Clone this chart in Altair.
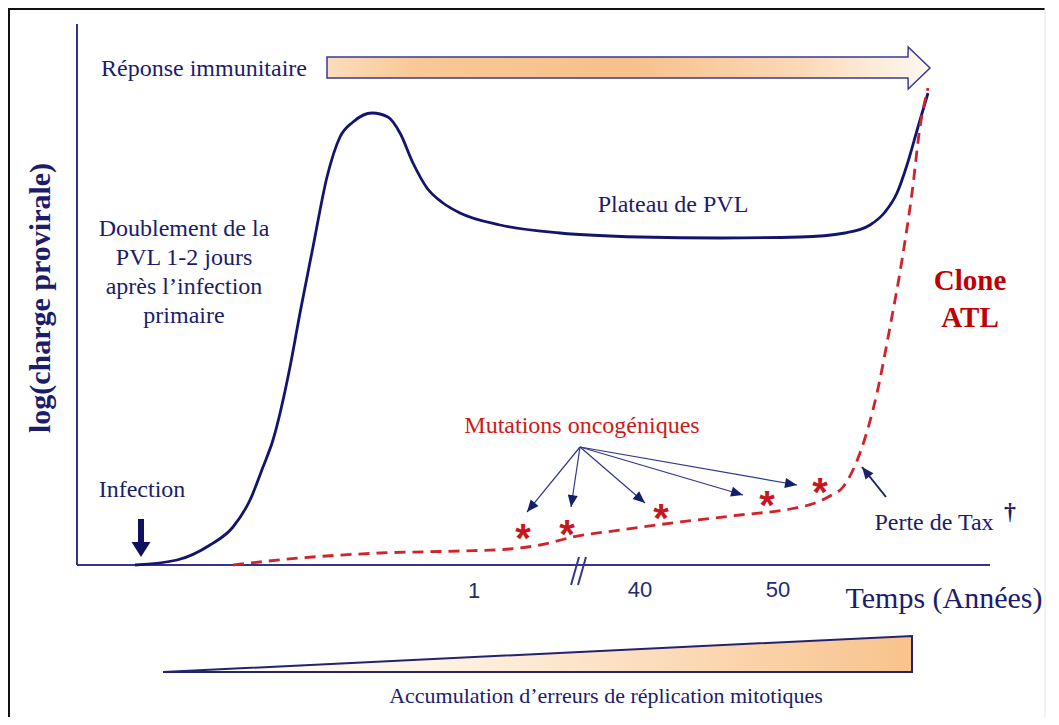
import altair as alt
import pandas as pd

# ---------------- schematic units: x = time (arbitrary), y = log proviral load (arbitrary) -------------
X_DOMAIN = [-69, 974]
Y_DOMAIN = [-152, 557]

# proviral load (solid curve)
pvl_x = [58, 100, 133, 156, 173, 186, 196, 213, 223, 236, 250, 263, 276, 295, 311, 323, 336, 350,
         366, 383, 423, 483, 563, 643, 723, 768, 793, 808, 820, 830, 841, 851]
pvl_y = [0, 5, 20, 38, 65, 98, 125, 198, 252, 318, 388, 428, 443, 452, 448, 432, 402, 377,
         362, 352, 340, 332, 328, 327, 328, 332, 340, 353, 372, 400, 438, 472]

# ATL clone (dashed curve)
atl_x = [156, 223, 303, 383, 433, 463, 496, 543, 603, 663, 713, 738, 753, 766, 775, 783, 800, 813,
         825, 835, 843, 851]
atl_y = [0, 7, 12, 14, 16, 20, 28, 35, 43, 50, 56, 62, 69, 78, 93, 112, 172, 238,
         305, 372, 438, 477]

# oncogenic mutations (asterisks) and arrows pointing at them
star_x = [446, 490, 584, 690, 743]
star_y = [36, 40, 56, 69, 82]
mut_origin_x = 503
mut_origin_y = 118
mut_tip_x = [450, 494, 568, 666, 720]
mut_tip_y = [53, 58, 62, 70, 80]

# "Perte de Tax" arrow
tax_from = (809, 68)
tax_tip = (785, 98)

# infection arrow
inf_shaft = (64, 46, 64, 20)
inf_tip = (64, 8)

# time tick labels
tick_labels = ["1", "40", "50"]
tick_x = [397, 563, 701]
tick_y = [-33, -32, -32]

# axes, axis break, frame
axis_segs = [(0, 0, 0, 541), (0, 0, 913, 0)]
break_segs = [(494, -20, 502, 8), (501, -20, 509, 8)]
frame_dark = [(-69, 556, 968, 556), (-68, 557, -68, -152)]
frame_light = [(968, 557, 968, -152)]

# immune response arrow (x, top, bottom)
imm_x = [250, 831, 831.2, 853]
imm_top = [508, 508, 518, 497]
imm_bot = [487, 487, 476, 497]

# accumulation wedge
wedge_x = [86, 835]
wedge_top = [-107, -71]
wedge_bot = [-107, -107]

serif_navy = [
    ("Réponse immunitaire", 127, 489, 24),
    ("Doublement de la", 107, 329, 24),
    ("PVL 1-2 jours", 107, 300, 24),
    ("après l’infection", 107, 271, 24),
    ("primaire", 107, 242, 24),
    ("Plateau de PVL", 596, 353, 24),
    ("Infection", 65, 68, 24),
    ("Perte de Tax", 857, 35, 24),
    ("Temps (Années)", 867, -43, 30),
    ("Accumulation d’erreurs de réplication mitotiques", 529, -138, 22),
]
dagger = [("†", 933, 46, 24)]
red_text = [("Mutations oncogéniques", 505, 132, 24)]
clone_text = [("Clone", 893, 275, 29), ("ATL", 893, 238, 29)]
ylabel = [("log(charge provirale)", -27, 267, 30)]

# ---------------- styling ----------------
NAVY = "#1c1c6c"
CURVE = "#14146f"
AXIS = "#34348a"
RED = "#d2222a"
SERIF = "Liberation Serif"
SANS = "Liberation Sans"


def X(f="x"):
    return alt.X(f"{f}:Q", scale=alt.Scale(domain=X_DOMAIN, nice=False, zero=False), axis=None)


def Y(f="y"):
    return alt.Y(f"{f}:Q", scale=alt.Scale(domain=Y_DOMAIN, nice=False, zero=False), axis=None)


def seg_df(segs):
    return pd.DataFrame(segs, columns=["x", "y", "x2", "y2"])


def segs_layer(segs, **mark):
    return alt.Chart(seg_df(segs)).mark_rule(**mark).encode(
        x=X(), y=Y(), x2="x2:Q", y2="y2:Q")


def text_layer(rows, font, weight, color, **extra):
    df = pd.DataFrame(rows, columns=["t", "x", "y", "s"])
    return alt.Chart(df).mark_text(font=font, fontWeight=weight, color=color,
                                   align="center", baseline="alphabetic", **extra).encode(
        x=X(), y=Y(), text="t:N", size=alt.Size("s:Q", scale=None))


layers = []

# frame
layers.append(segs_layer(frame_dark, color="#111111", strokeWidth=2))
layers.append(segs_layer(frame_light, color="#e6e6e6", strokeWidth=1))

# wedge
wedge_grad = {"gradient": "linear", "x1": 0, "x2": 1, "y1": 0, "y2": 0,
              "stops": [{"offset": 0, "color": "#ffffff"},
                        {"offset": 0.35, "color": "#fff3e6"},
                        {"offset": 1, "color": "#f8c38c"}]}
layers.append(alt.Chart(pd.DataFrame({"x": wedge_x, "y": wedge_top, "y2": wedge_bot})).mark_area(
    fill=wedge_grad, stroke="#23236e", strokeWidth=2, interpolate="linear").encode(
    x=X(), y=Y(), y2="y2:Q"))

# immune response arrow
imm_grad = {"gradient": "linear", "x1": 0, "x2": 1, "y1": 0, "y2": 0,
            "stops": [{"offset": 0, "color": "#fcdcbc"},
                      {"offset": 0.15, "color": "#f9c895"},
                      {"offset": 0.5, "color": "#f8c08a"},
                      {"offset": 0.78, "color": "#fbd8b6"},
                      {"offset": 1, "color": "#fff8f2"}]}
layers.append(alt.Chart(pd.DataFrame({"x": imm_x, "y": imm_top, "y2": imm_bot})).mark_area(
    fill=imm_grad, stroke="#3a3a8e", strokeWidth=1.5, interpolate="linear").encode(
    x=X(), y=Y(), y2="y2:Q"))

# axes + break
layers.append(segs_layer(axis_segs, color=AXIS, strokeWidth=2))
layers.append(segs_layer(break_segs, color=AXIS, strokeWidth=2))

# curves
layers.append(alt.Chart(pd.DataFrame({"x": pvl_x, "y": pvl_y})).mark_line(
    color=CURVE, strokeWidth=2.8, interpolate="monotone").encode(x=X(), y=Y()))
layers.append(alt.Chart(pd.DataFrame({"x": atl_x, "y": atl_y})).mark_line(
    color=RED, strokeWidth=2.8, strokeDash=[11, 7], interpolate="monotone").encode(x=X(), y=Y()))

# mutation arrows
mut_df = pd.DataFrame({"x0": [mut_origin_x] * len(mut_tip_x), "y0": [mut_origin_y] * len(mut_tip_x),
                       "x": mut_tip_x, "y": mut_tip_y})
ANGLE = "(atan2(datum.x - datum.x0, datum.y - datum.y0) * 180 / PI + 360) % 360"
layers.append(alt.Chart(mut_df).mark_rule(color="#30358c", strokeWidth=1.2).encode(
    x=X("x0"), y=Y("y0"), x2="x:Q", y2="y:Q"))
HEAD = "M0,0L-0.42,1L0.42,1Z"
layers.append(alt.Chart(mut_df).transform_calculate(angle=ANGLE).mark_point(
    shape=HEAD, filled=True, size=576, opacity=1, color="#14206a", strokeWidth=0).encode(
    x=X(), y=Y(), angle=alt.Angle("angle:Q", scale=None)))

# Perte de Tax arrow
tax_df = pd.DataFrame({"x0": [tax_from[0]], "y0": [tax_from[1]], "x": [tax_tip[0]], "y": [tax_tip[1]]})
layers.append(alt.Chart(tax_df).mark_rule(color="#1c2266", strokeWidth=2).encode(
    x=X("x0"), y=Y("y0"), x2="x:Q", y2="y:Q"))
layers.append(alt.Chart(tax_df).transform_calculate(angle=ANGLE).mark_point(
    shape=HEAD, filled=True, size=576, opacity=1, color="#1c2266", strokeWidth=0).encode(
    x=X(), y=Y(), angle=alt.Angle("angle:Q", scale=None)))

# Infection arrow
layers.append(segs_layer([inf_shaft], color="#101060", strokeWidth=6))
layers.append(alt.Chart(pd.DataFrame({"x": [inf_tip[0]], "y": [inf_tip[1]]})).mark_point(
    shape="M0,0L-0.63,-1L0.63,-1Z", filled=True, size=900, opacity=1, color="#101060",
    strokeWidth=0).encode(x=X(), y=Y()))

# asterisks
layers.append(alt.Chart(pd.DataFrame({"x": star_x, "y": star_y, "t": ["*"] * len(star_x)})).mark_text(
    font=SANS, fontWeight="bold", fontSize=40, color="#c8161d", align="center",
    baseline="alphabetic", dy=23).encode(x=X(), y=Y(), text="t:N"))

# texts
layers.append(text_layer(serif_navy, SERIF, "normal", NAVY))
layers.append(text_layer(dagger, SERIF, "bold", NAVY))
layers.append(text_layer(red_text, SERIF, "normal", "#d01818"))
layers.append(text_layer(clone_text, SERIF, "bold", "#c00000"))
layers.append(text_layer(ylabel, SERIF, "bold", NAVY, angle=270))
layers.append(alt.Chart(pd.DataFrame({"t": tick_labels, "x": tick_x, "y": tick_y})).mark_text(
    font=SANS, fontSize=22, color="#1f2c70", align="center", baseline="alphabetic").encode(
    x=X(), y=Y(), text="t:N"))

chart = alt.layer(*layers).properties(
    width=1043, height=709, padding=0,
    autosize=alt.AutoSizeParams(type="none"),
).configure_view(strokeWidth=0)

chart.save("out.html", embed_options={"renderer": "svg", "actions": False})
